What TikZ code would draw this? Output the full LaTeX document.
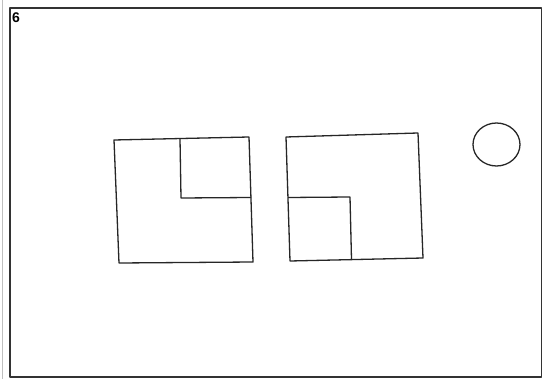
\documentclass[tikz,border=0pt]{standalone}
\usepackage{fontspec}
\setmainfont{Liberation Sans}
\begin{document}
\begin{tikzpicture}[x=1pt,y=-1pt,line join=round,
  shape line/.style={draw=black!85,line width=1.3pt},
  frame line/.style={draw=black!80,line width=1.3pt}]
\useasboundingbox (0,0) rectangle (543,379);
\fill[white] (0,0) rectangle (543,379);
% faint scan edge
\draw[black!25,line width=1pt] (2.5,0) -- (2.5,379);
% frame
\draw[frame line] (10,8) -- (541.5,8) -- (541.5,377) -- (10,377) -- cycle;
\node[anchor=north west,inner sep=0pt,font=\fontsize{14}{14}\selectfont\bfseries] (num) at (12,12.5) {6};
% left square
\draw[shape line] (114,140) -- (249,137) -- (253,262) -- (119,263) -- cycle;
\draw[shape line] (180,138.5) -- (181,198) -- (251,197.5);
% right square
\draw[shape line] (286,137) -- (418,133) -- (423,258) -- (290,261) -- cycle;
\draw[shape line] (288,197.5) -- (350,197) -- (351.5,259.5);
% circle
\draw[shape line] (496.5,144.5) ellipse [x radius=23.5,y radius=21.5];
\end{tikzpicture}
\end{document}
